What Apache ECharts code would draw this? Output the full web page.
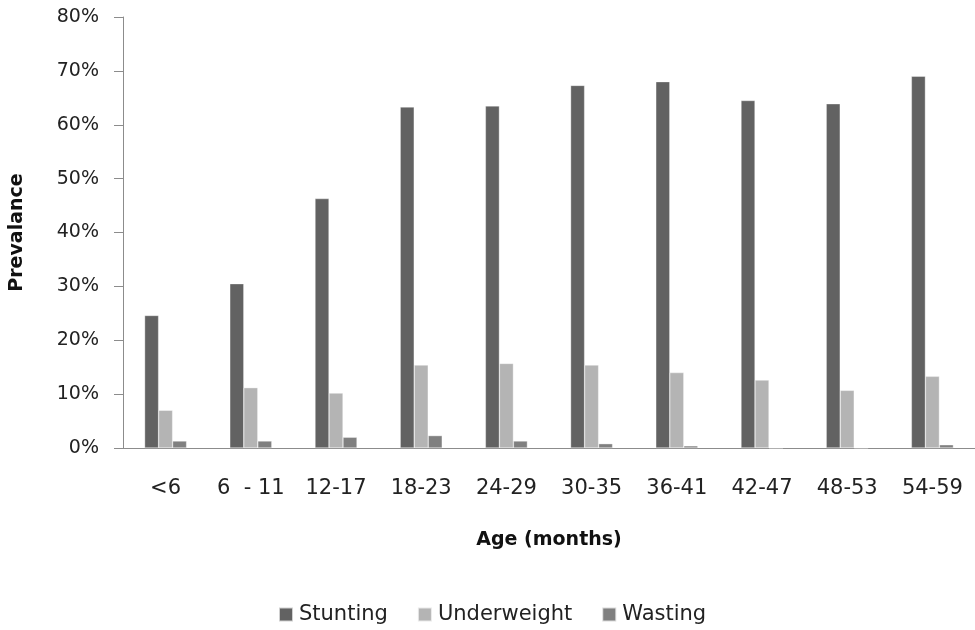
<!DOCTYPE html>
<html>
<head>
<meta charset="utf-8">
<script src="https://cdn.jsdelivr.net/npm/echarts@6/dist/echarts.min.js"></script>
<style>
html,body{margin:0;padding:0;background:#fff;}
#chart{width:975px;height:630px;}
</style>
</head>
<body>
<div id="chart"></div>
<script>
const categories = ['<6', '6  - 11', '12-17', '18-23', '24-29', '30-35', '36-41', '42-47', '48-53', '54-59'];
const stunting = [24.6, 30.5, 46.3, 63.3, 63.5, 67.3, 68.0, 64.5, 63.9, 69.0];
const underweight = [7.0, 11.2, 10.2, 15.4, 15.7, 15.4, 14.0, 12.6, 10.7, 13.3];
const wasting = [1.3, 1.3, 2.0, 2.3, 1.3, 0.8, 0.4, 0, 0, 0.6];
const yTicks = [0, 10, 20, 30, 40, 50, 60, 70, 80];

const FONT = 'DejaVu Sans';
const chart = echarts.init(document.getElementById('chart'), null, {renderer: 'canvas'});
const barStyle = (c) => ({color: c, borderColor: 'rgba(255,255,255,0.7)', borderWidth: 0.5});
chart.setOption({
  animation: false,
  backgroundColor: '#ffffff',
  textStyle: {fontFamily: FONT},
  grid: {left: 123, right: -9, top: 17, bottom: 182, containLabel: false},
  xAxis: {
    type: 'category',
    data: categories,
    axisLine: {lineStyle: {color: '#8c8c8c', width: 1}},
    axisTick: {show: false},
    axisLabel: {color: '#222', fontSize: 21, fontFamily: FONT, margin: 30, interval: 0},
    name: 'Age (months)',
    nameLocation: 'middle',
    nameGap: 83,
    nameTextStyle: {color: '#111', fontSize: 19, fontWeight: 'bold', fontFamily: FONT}
  },
  yAxis: {
    type: 'value',
    min: yTicks[0],
    max: yTicks[yTicks.length - 1],
    interval: yTicks[1] - yTicks[0],
    axisLine: {show: true, lineStyle: {color: '#8c8c8c', width: 1}},
    axisTick: {show: true, length: 9, lineStyle: {color: '#8c8c8c'}},
    splitLine: {show: false},
    axisLabel: {color: '#222', fontSize: 19, fontFamily: FONT, margin: 24, formatter: '{value}%'},
    name: 'Prevalance',
    nameLocation: 'middle',
    nameGap: 96,
    nameRotate: 90,
    nameTextStyle: {color: '#111', fontSize: 19, fontWeight: 'bold', fontFamily: FONT}
  },
  legend: {
    top: 604,
    left: 278,
    padding: 0,
    icon: 'rect',
    itemWidth: 14,
    itemHeight: 14,
    itemGap: 29,
    textStyle: {color: '#222', fontSize: 21, fontFamily: FONT, padding: [0, 0, 0, 1]},
    data: ['Stunting', 'Underweight', 'Wasting']
  },
  series: [
    {name: 'Stunting', type: 'bar', data: stunting, barWidth: 14, barGap: '0%', itemStyle: barStyle('#626262')},
    {name: 'Underweight', type: 'bar', data: underweight, barWidth: 14, barGap: '0%', itemStyle: barStyle('#b4b4b4')},
    {name: 'Wasting', type: 'bar', data: wasting, barWidth: 14, barGap: '0%', itemStyle: barStyle('#808080')}
  ]
});
</script>
</body>
</html>
